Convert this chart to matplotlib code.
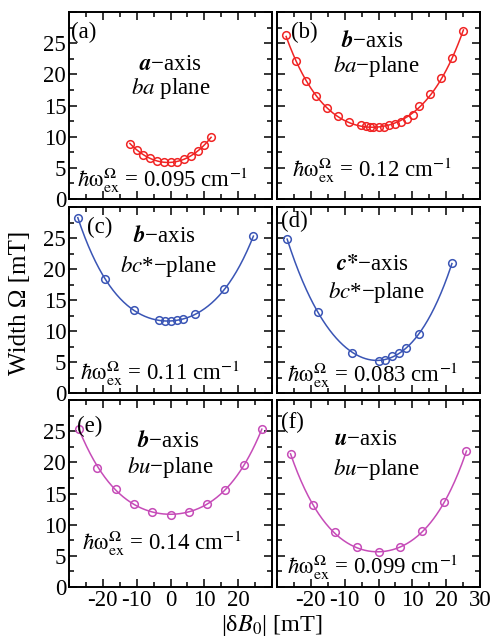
import matplotlib
matplotlib.use("Agg")
import matplotlib.pyplot as plt
import numpy as np

plt.rcParams['font.family'] = ['Liberation Serif', 'DejaVu Serif']
plt.rcParams['mathtext.fontset'] = 'stix'
plt.rcParams['axes.unicode_minus'] = False

# panel (a): a-axis, ba plane
a_x = [-12, -10, -8, -6, -4, -2, 0, 2, 4, 6, 8, 10, 12]
a_y = [8.9, 7.9, 7.1, 6.5, 6.1, 5.9, 5.9, 6.0, 6.4, 6.9, 7.7, 8.65, 9.9]

# panel (b): b-axis, ba-plane
b_x = [-27.3, -24.5, -21.5, -18.5, -15.2, -12.0, -8.7, -5.3, -3.8, -2.5, -1.5, 0.0,
       1.5, 3.1, 5.0, 6.65, 8.3, 10.1, 11.9, 15.1, 18.5, 21.8, 25.1]
b_y = [26.3, 22.15, 18.9, 16.5, 14.65, 13.3, 12.36, 11.93, 11.7, 11.6, 11.56, 11.56,
       11.6, 11.8, 12.1, 12.36, 12.9, 13.4, 14.9, 16.9, 19.4, 22.6, 27.0]

# panel (c): b-axis, bc*-plane
c_x = [-27.4, -19.4, -10.7, -3.5, -1.7, 0.0, 1.8, 3.6, 7.2, 15.9, 24.5]
c_y = [28.3, 18.4, 13.4, 11.7, 11.6, 11.6, 11.7, 11.9, 12.7, 16.7, 25.3]

# panel (d): c*-axis, bc*-plane
d_x = [-27.0, -17.8, -7.9, 0.0, 2.0, 4.0, 6.1, 8.0, 12.1, 21.7]
d_y = [24.8, 13.0, 6.5, 5.2, 5.4, 5.9, 6.5, 7.2, 9.5, 20.9]

# panel (e): b-axis, bu-plane
e_x = [-27.0, -21.6, -16.2, -10.8, -5.4, 0.0, 5.4, 10.8, 16.2, 21.6, 27.0]
e_y = [25.3, 19.15, 15.7, 13.3, 12.05, 11.6, 12.05, 13.3, 15.6, 19.5, 25.3]

# panel (f): u-axis, bu-plane
f_x = [-26.0, -19.5, -13.0, -6.5, 0.0, 6.5, 13.0, 19.5, 26.0]
f_y = [21.4, 13.2, 8.75, 6.4, 5.55, 6.4, 8.96, 13.65, 21.8]

labels = ['(a)', '(b)', '(c)', '(d)', '(e)', '(f)']
axis_text = [r'$\mathbfit{a}$−axis', r'$\mathbfit{b}$−axis', r'$\mathbfit{b}$−axis',
             r'$\mathbfit{c}$$\mathbf{*}$−axis', r'$\mathbfit{b}$−axis', r'$\mathbfit{u}$−axis']
plane_text = [r'$ba$ plane', r'$ba$−plane', r'$bc$*−plane', r'$bc$*−plane',
              r'$bu$−plane', r'$bu$−plane']
omega_ex = ['0.095', '0.12', '0.11', '0.083', '0.14', '0.099']

RED = '#f02424'
BLUE = '#3a55b5'
MAG = '#c64cb8'

panels = [
    (a_x, a_y, RED), (b_x, b_y, RED),
    (c_x, c_y, BLUE), (d_x, d_y, BLUE),
    (e_x, e_y, MAG), (f_x, f_y, MAG),
]

# text placement (axes fraction): label, axis line, plane line, formula
pos_label = [(0.01, 0.89), (0.07, 0.89), (0.09, 0.89), (0.02, 0.92), (0.04, 0.86), (0.02, 0.88)]
pos_axis = [(0.50, 0.72), (0.47, 0.84), (0.47, 0.84), (0.47, 0.69), (0.49, 0.78), (0.44, 0.79)]
pos_plane = [(0.50, 0.59), (0.49, 0.71), (0.49, 0.68), (0.49, 0.54), (0.50, 0.64), (0.49, 0.63)]
pos_form = [(0.46, 0.10), (0.47, 0.155), (0.45, 0.105), (0.47, 0.095), (0.46, 0.235), (0.47, 0.105)]

W, H = 492, 637
fig = plt.figure(figsize=(W / 100, H / 100), dpi=100)
cols = [69, 277]
rows = [(12, 199), (207, 393), (400, 587)]

FS = 16.5
for i, (px, py, col) in enumerate(panels):
    r, c = divmod(i, 2)
    top, bot = rows[r]
    ax = fig.add_axes([cols[c] / W, (H - bot) / H, 203 / W, (bot - top) / H])

    coef = np.polyfit(px, py, 4)
    xs = np.linspace(min(px), max(px), 300)
    ax.plot(xs, np.polyval(coef, xs), color=col, lw=1.1)
    ax.plot(px, py, 'o', mfc='none', mec=col, mew=1.1, ms=5.5)

    ax.set_xlim(-30, 30)
    ax.set_ylim(0, 30)
    ax.set_yticks([0, 5, 10, 15, 20, 25, 30])
    ax.set_yticks(np.arange(0, 30, 2.5), minor=True)
    ax.set_xticks(np.arange(-30, 31, 10))
    ax.set_xticks(np.arange(-30, 31, 5), minor=True)
    ax.tick_params(which='both', direction='in', top=True, right=True,
                   labelsize=FS, width=1.1, pad=2)
    ax.tick_params(which='major', length=6)
    ax.tick_params(which='minor', length=3.5)
    for s in ax.spines.values():
        s.set_linewidth(1.4)

    if c == 0:
        ax.set_yticklabels(['0', '5', '10', '15', '20', '25', ''])
    else:
        ax.set_yticklabels([])
    if r == 2:
        if c == 0:
            ax.set_xticklabels(['', '-20', '-10', '0', '10', '20', ''])
        else:
            ax.set_xticklabels(['', '-20', '-10', '0', '10', '20', '30'])
    else:
        ax.set_xticklabels([])

    ax.text(*pos_label[i], labels[i], transform=ax.transAxes, fontsize=FS,
            ha='left', va='center')
    ax.text(*pos_axis[i], axis_text[i], transform=ax.transAxes, fontsize=FS,
            ha='center', va='center')
    ax.text(*pos_plane[i], plane_text[i], transform=ax.transAxes, fontsize=FS,
            ha='center', va='center')
    ax.text(*pos_form[i],
            r'$\hbar\mathrm{\omega}_{\rm ex}^{\Omega}$ = ' + omega_ex[i] + r' cm$^{-1}$',
            transform=ax.transAxes, fontsize=FS, ha='center', va='center')

fig.text(20 / W, 1 - 303 / H, 'Width Ω [mT]', rotation=90, fontsize=18,
         ha='center', va='center')
fig.text(272 / W, 1 - 626 / H, '|δ$B_0$| [mT]', fontsize=17.5, ha='center', va='center')

fig.savefig('out.png', dpi=100)
